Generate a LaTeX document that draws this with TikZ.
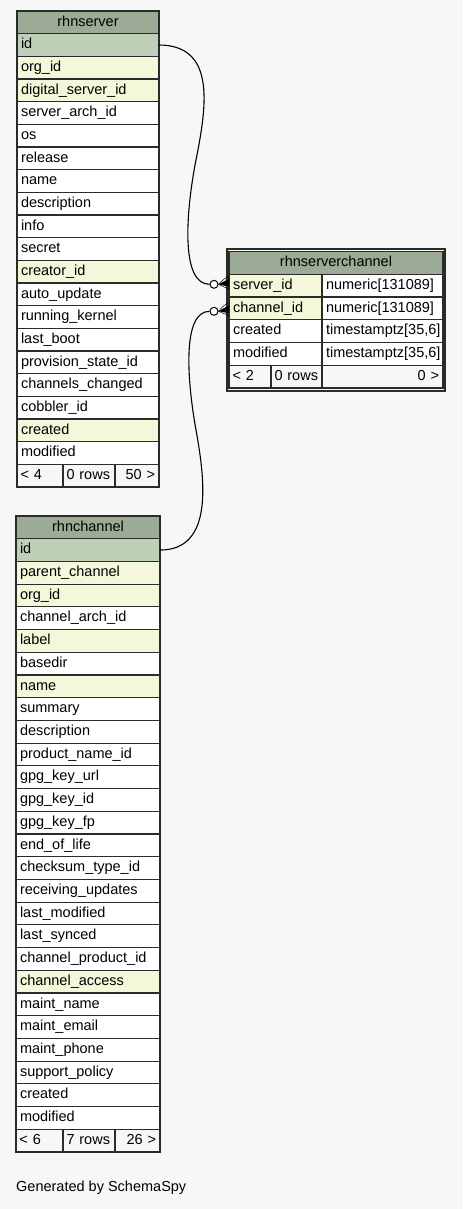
\documentclass[tikz,border=0pt]{standalone}
\usepackage{fontspec}
\setmainfont{Liberation Sans}
\definecolor{bg}{HTML}{F7F7F7}
\definecolor{hdr}{HTML}{9BAB96}
\definecolor{pk}{HTML}{BED1B8}
\definecolor{fk}{HTML}{F4F7DA}
\definecolor{ln}{HTML}{2B2B2B}
\begin{document}
\begin{tikzpicture}[x=1pt,y=-1pt,
  every node/.style={font=\fontsize{14.5}{16}\selectfont},
  cell/.style={rectangle, draw=ln, line width=1.2, inner xsep=4, inner ysep=0,
    text height=10.5, text depth=3, anchor=north west, outer sep=0},
  foot/.style={cell, fill=bg, inner xsep=3.5},
  conn/.style={draw=black, line width=1.1},
  odot/.style={circle, draw=black, line width=1, fill=white, minimum size=8, inner sep=0}]
\fill[bg] (0,0) rectangle (463,1209);
\useasboundingbox (0,0) rectangle (463,1209);

% ---------------- rhnserver ----------------
\def\sh{22.667}
\node[cell, fill=hdr, minimum width=142, minimum height=\sh, text width=134, align=center] (srv-0) at (17,11) {rhnserver};
\foreach \n/\c [count=\i] in {id/pk, org\_id/fk, digital\_server\_id/fk, server\_arch\_id/white, os/white, release/white, name/white, description/white, info/white, secret/white, creator\_id/fk, auto\_update/white, running\_kernel/white, last\_boot/white, provision\_state\_id/white, channels\_changed/white, cobbler\_id/white, created/fk, modified/white}
  \node[cell, fill=\c, minimum width=142, minimum height=\sh, text width=134, align=left] (srv-\i) at ({17},{11+\i*\sh}) {\n};
\node[foot, minimum width=46, minimum height=\sh, text width=39, align=left] (srv-fa) at ({17},{11+20*\sh}) {< 4};
\node[foot, minimum width=52, minimum height=\sh, text width=45, align=left] (srv-fb) at ({63},{11+20*\sh}) {0 rows};
\node[foot, minimum width=44, minimum height=\sh, text width=36, align=right] (srv-fc) at ({115},{11+20*\sh}) {50 >};

% ---------------- rhnchannel ----------------
\def\ch{22.714}
\node[cell, fill=hdr, minimum width=144, minimum height=\ch, text width=136, align=center] (chn-0) at (16,516) {rhnchannel};
\foreach \n/\c [count=\i] in {id/pk, parent\_channel/fk, org\_id/fk, channel\_arch\_id/white, label/fk, basedir/white, name/fk, summary/white, description/white, product\_name\_id/white, gpg\_key\_url/white, gpg\_key\_id/white, gpg\_key\_fp/white, end\_of\_life/white, checksum\_type\_id/white, receiving\_updates/white, last\_modified/white, last\_synced/white, channel\_product\_id/white, channel\_access/fk, maint\_name/white, maint\_email/white, maint\_phone/white, support\_policy/white, created/white, modified/white}
  \node[cell, fill=\c, minimum width=144, minimum height=\ch, text width=136, align=left] (chn-\i) at ({16},{516+\i*\ch}) {\n};
\node[foot, minimum width=47, minimum height=\ch, text width=40, align=left] (chn-fa) at ({16},{516+27*\ch}) {< 6};
\node[foot, minimum width=52, minimum height=\ch, text width=45, align=left] (chn-fb) at ({63},{516+27*\ch}) {7 rows};
\node[foot, minimum width=45, minimum height=\ch, text width=37, align=right] (chn-fc) at ({115},{516+27*\ch}) {26 >};

% ---------------- rhnserverchannel ----------------
\def\rh{22.75}
\draw[ln, line width=1.8] (226.8,248.8) rectangle (445.2,390.6);
\node[cell, fill=hdr, minimum width=214, minimum height=\rh, text width=206, align=center] (sc-0) at (229,251.5) {rhnserverchannel};
\foreach \n/\t/\c [count=\i] in {server\_id/{numeric[131089]}/fk, channel\_id/{numeric[131089]}/fk, created/{timestamptz[35,6]}/white, modified/{timestamptz[35,6]}/white} {
  \node[cell, fill=\c, minimum width=93, minimum height=\rh, text width=85, align=left] (sc-\i) at ({229},{251.5+\i*\rh}) {\n};
  \node[cell, fill=white, minimum width=121, minimum height=\rh, text width=113, align=left] (sct-\i) at ({322},{251.5+\i*\rh}) {\t};
}
\node[foot, minimum width=42, minimum height=\rh, text width=35, align=left] (sc-fa) at ({229},{251.5+5*\rh}) {< 2};
\node[foot, minimum width=51, minimum height=\rh, text width=47, inner xsep=2, align=left] (sc-fb) at ({271},{251.5+5*\rh}) {\hspace{1.5pt}0 rows};
\node[foot, minimum width=121, minimum height=\rh, text width=113, align=right] (sc-fc) at ({322},{251.5+5*\rh}) {0 >};

% ---------------- connectors ----------------
\node[odot] (c1) at (214,284.3) {};
\node[odot] (c2) at (214,311.3) {};
\coordinate (m1) at (195,165);
\coordinate (m2) at (196,430);
\coordinate (e1) at ([yshift=2.8pt]sc-1.west);
\coordinate (e2) at ([yshift=-0.8pt]sc-2.west);

\draw[conn] (srv-1.east) .. controls (218,45.3) and (206,110) .. (m1)
  .. controls (185,220) and (182,284.3) .. (c1.west);
\draw[conn] (chn-1.east) .. controls (214,550) and (205,480) .. (m2)
  .. controls (187,380) and (182,311.3) .. (c2.west);

\foreach \c/\e in {c1/e1, c2/e2} {
  \fill[black] (\c.east) -- ([yshift=4pt]\e) -- ([yshift=-4pt]\e) -- cycle;
  \draw[black, line width=0.5] (\c.east) .. controls ([xshift=-5pt,yshift=4pt]\e) .. ([yshift=6.5pt]\e);
  \draw[black, line width=0.5] (\c.east) .. controls ([xshift=-5pt,yshift=-4pt]\e) .. ([yshift=-6.5pt]\e);
}

\node[anchor=base west, inner sep=0] (gen) at (16,1191.5) {Generated by SchemaSpy};
\end{tikzpicture}
\end{document}
